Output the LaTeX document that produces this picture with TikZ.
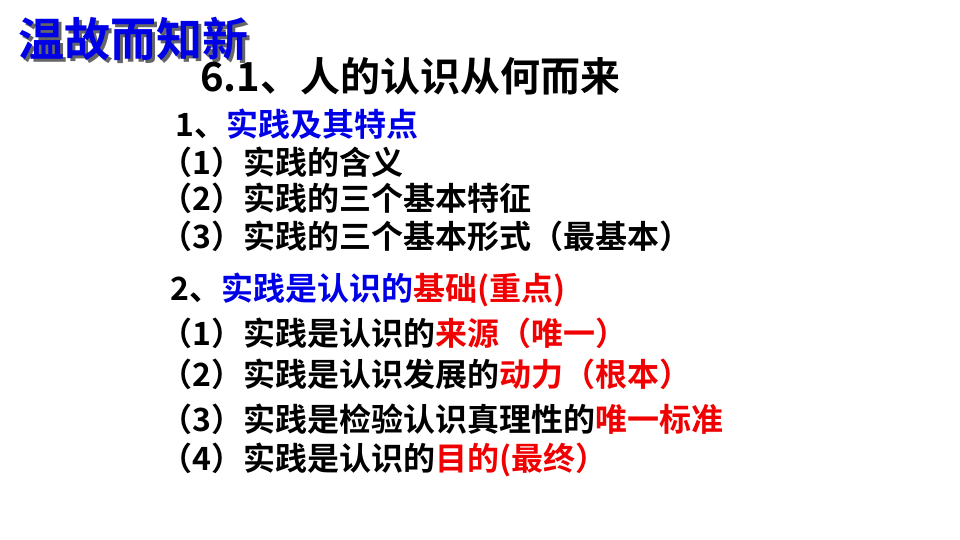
\documentclass[tikz,border=0pt]{standalone}
\usepackage{fontspec}
\newfontfamily\cjk{Noto Sans CJK SC Bold}
\definecolor{tblue}{RGB}{0,0,230}
\definecolor{tred}{RGB}{240,0,0}
\begin{document}
\begin{tikzpicture}[x=1pt,y=-1pt,
  line/.style={anchor=west,inner sep=0pt,font=\cjk\fontsize{32}{34}\selectfont}]
\useasboundingbox (0,0) rectangle (960,540);
\node[anchor=west,inner sep=0pt,font=\cjk\fontsize{46}{48}\selectfont] (t) at (18,40) {\rlap{\raisebox{-3pt}{\hspace{3pt}\textcolor{black!60}{温故而知新}}}\textcolor{tblue}{温故而知新}};
\node[anchor=west,inner sep=0pt,font=\cjk\fontsize{40}{42}\selectfont] (h) at (200,76) {6.1、人的认识从何而来};
\node[line] (a) at (175,124) {1、\textcolor{tblue}{实践及其特点}};
\node[line] (a1) at (160,162) {（1）实践的含义};
\node[line] (a2) at (160,198) {（2）实践的三个基本特征};
\node[line] (a3) at (160,236) {（3）实践的三个基本形式（最基本）};
\node[line] (b) at (170,290) {2、\textcolor{tblue}{实践是认识的}\textcolor{tred}{基础(重点)}};
\node[line] (b1) at (160,333) {（1）实践是认识的\textcolor{tred}{来源（唯一）}};
\node[line] (b2) at (160,374) {（2）实践是认识发展的\textcolor{tred}{动力（根本）}};
\node[line] (b3) at (160,419) {（3）实践是检验认识真理性的\textcolor{tred}{唯一标准}};
\node[line] (b4) at (160,460) {（4）实践是认识的\textcolor{tred}{目的(最终）}};
\end{tikzpicture}
\end{document}
